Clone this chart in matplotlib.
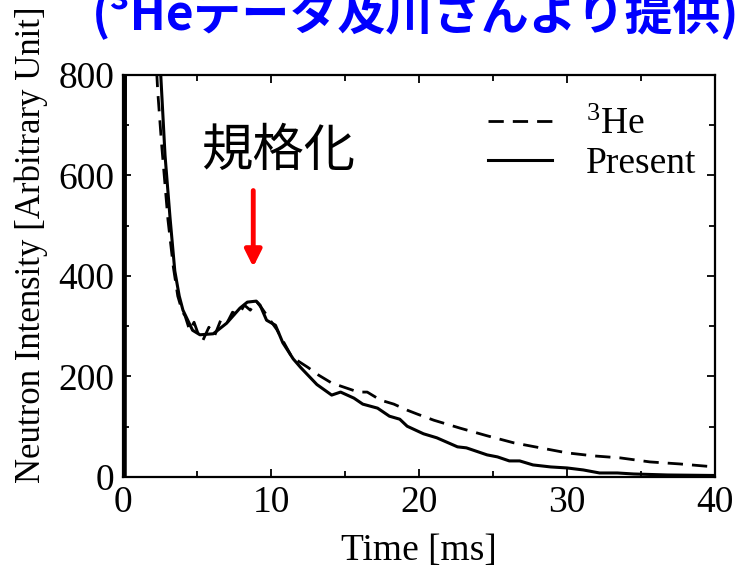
import matplotlib
matplotlib.use('Agg')
import matplotlib.pyplot as plt
from matplotlib.ticker import MultipleLocator

plt.rcParams['font.family'] = ['Liberation Serif', 'DejaVu Serif']
plt.rcParams['mathtext.fontset'] = 'stix'
plt.rcParams['mathtext.default'] = 'regular'
plt.rcParams['lines.scale_dashes'] = False

# Present (solid)
t_present = [0.0, 0.15, 0.25, 0.35, 1.0, 1.8, 2.3, 2.55, 2.84, 3.18, 3.5, 3.8, 4.05, 4.7,
             5.2, 6.1, 7.0, 7.9, 8.4, 9.0, 9.26, 9.7, 10.3, 10.8, 11.5, 12.0, 13.1,
             14.1, 14.7, 15.6, 16.2, 17.2, 18.0, 18.7, 19.2, 20.3, 21.2, 22.6, 23.2,
             24.6, 25.3, 26.1, 26.8, 27.7, 28.9, 30.0, 31.1, 32.2, 33.4, 34.5, 36.8, 40.0]
y_present = [0, 0, 5000, 4000, 2500, 1300, 950, 800, 640, 515, 410, 360, 332, 292,
             283, 285, 306, 336, 348, 350, 342, 312, 302, 267, 235, 218, 184,
             163, 169, 157, 145, 137, 121, 115, 101, 86, 78, 60, 58,
             44, 40, 32, 32, 24, 20, 18, 14, 8, 8, 6, 4, 3]

# 3He (dashed)
t_he3 = [0.0, 0.08, 0.15, 0.5, 1.2, 1.8, 2.2, 2.34, 2.6, 3.04, 3.4, 3.7, 4.0, 4.2, 4.5,
         4.8, 5.1, 5.4, 5.8, 6.2, 6.6, 7.0, 7.4, 7.8, 8.2, 8.6, 9.0, 9.4, 9.8, 10.4,
         11.4, 12.5, 13.2, 14.1, 14.9, 15.9, 16.5, 17.4, 18.3, 19.2, 19.9, 21.0, 22.8,
         24.6, 26.4, 28.2, 30.0, 31.8, 33.6, 35.6, 37.6, 40.0]
y_he3 = [0, 0, 5000, 3500, 2000, 1100, 850, 770, 665, 511, 418, 360, 330, 320, 292,
         308, 283, 272, 298, 282, 312, 305, 328, 322, 342, 332, 350, 335, 318, 293,
         239, 218, 203, 187, 179, 169, 169, 153, 145, 133, 125, 113, 97,
         82, 68, 58, 48, 42, 38, 30, 26, 20]

fig = plt.figure(figsize=(7.37, 5.69), dpi=100)
ax = fig.add_axes([0.1669, 0.1617, 0.8033, 0.7065])

ax.plot(t_he3, y_he3, color='black', lw=2.0, dashes=(11, 6.5), label='$^{3}$He')
ax.plot(t_present, y_present, color='black', lw=2.2, label='Present')

ax.set_xlim(0, 40)
ax.set_ylim(0, 800)
ax.xaxis.set_major_locator(MultipleLocator(10))
ax.xaxis.set_minor_locator(MultipleLocator(5))
ax.yaxis.set_major_locator(MultipleLocator(200))
ax.yaxis.set_minor_locator(MultipleLocator(100))
ax.tick_params(which='both', direction='in', top=True, right=True, labelsize=27, width=1.3)
ax.tick_params(which='major', length=6, pad=6)
ax.tick_params(which='minor', length=4)
for s in ax.spines.values():
    s.set_linewidth(1.6)

ax.set_xlabel('Time [ms]', fontsize=27, labelpad=10)
fig.text(31 / 737, 1 - 245 / 569, 'Neutron Intensity [Arbitrary Unit]', fontsize=25,
         rotation=90, ha='center', va='center')

leg = ax.legend(loc='upper right', bbox_to_anchor=(1.012, 0.985), frameon=False, fontsize=27,
                handlelength=1.7, handletextpad=0.9, labelspacing=0.12, borderpad=0.2)

# 規格化 annotation with red arrow
ax.text(10.5, 648, '規格化', fontsize=37, ha='center', va='center',
        family=['Noto Sans CJK JP', 'DejaVu Sans'])
ax.annotate('', xy=(8.8, 418), xytext=(8.8, 570),
            arrowprops=dict(arrowstyle='-|>,head_length=1.0,head_width=0.5',
                            color='red', lw=3.5, shrinkA=0, shrinkB=0))

# blue title, cut off at top edge as in the slide
fig.text(92 / 737, 1 - 29 / 569, '(³Heデータ及川さんより提供)', fontsize=34.5, color='#0000ff',
         fontweight='bold', ha='left', va='baseline',
         family=['Noto Sans CJK JP', 'DejaVu Sans'])

fig.savefig('out.png', dpi=100)
